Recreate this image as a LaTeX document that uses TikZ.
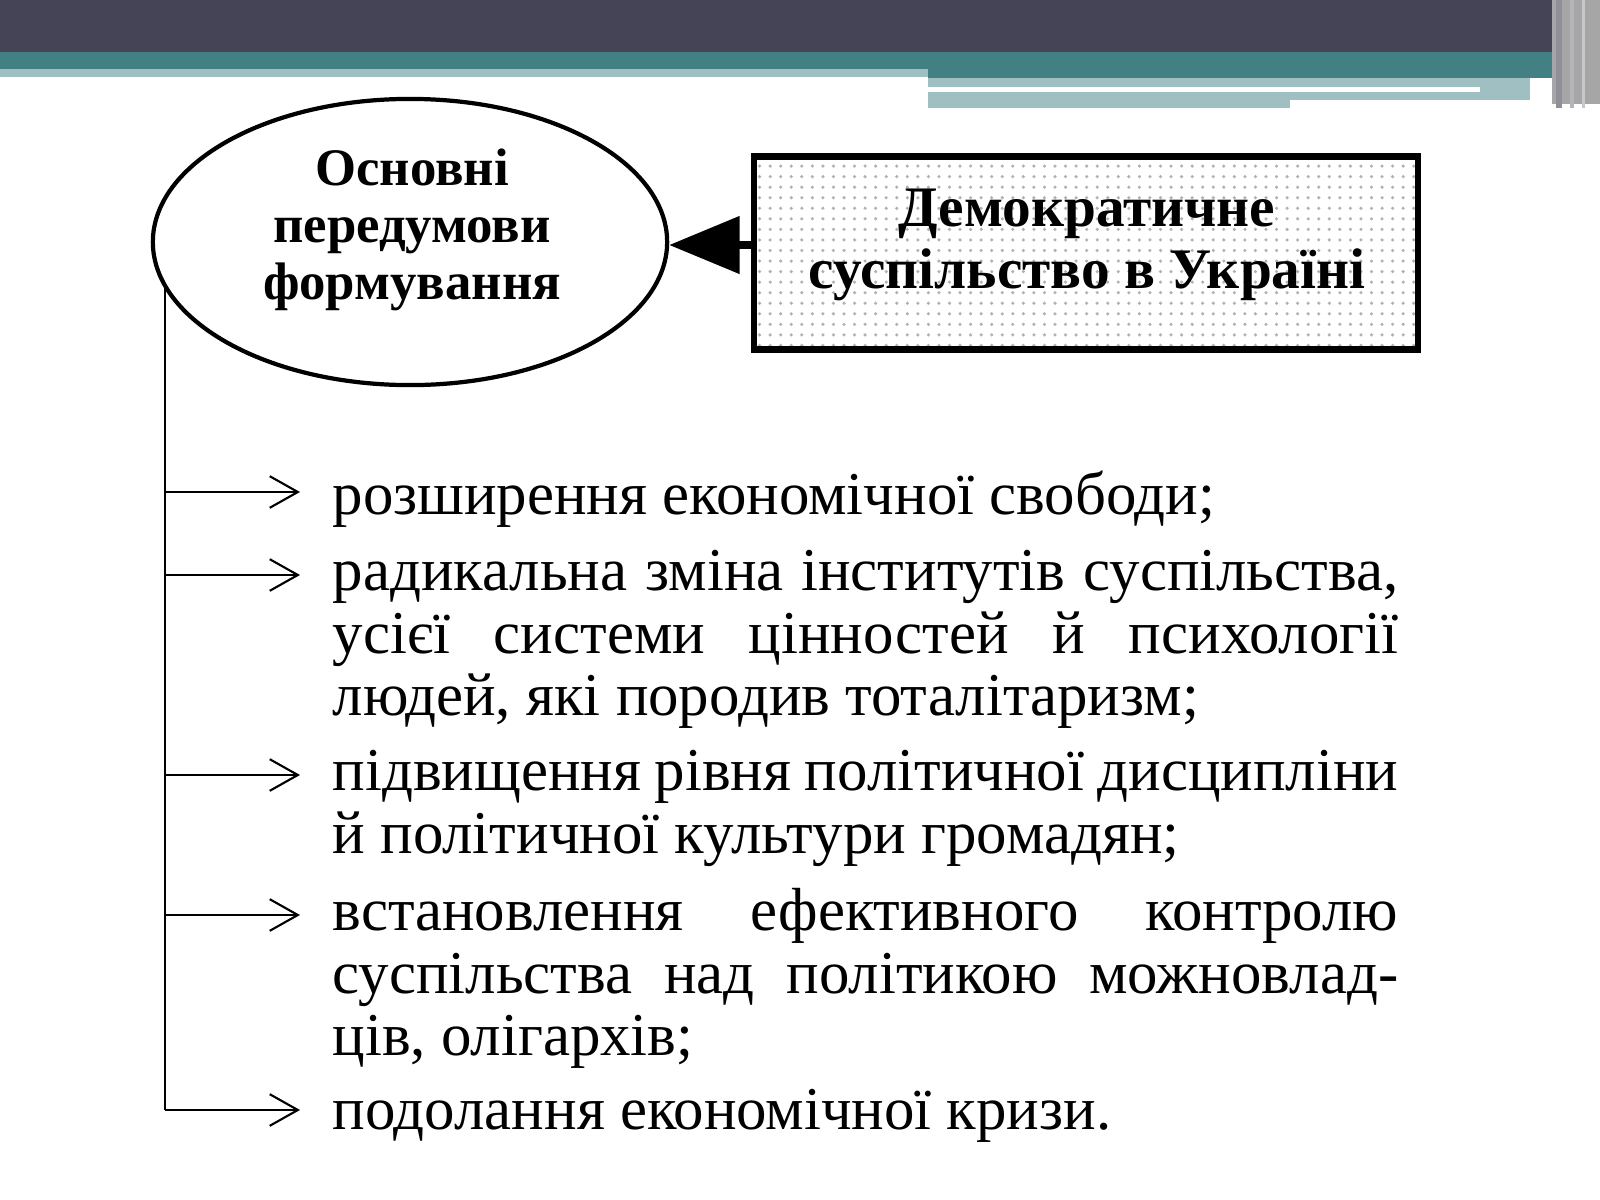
\documentclass[tikz,border=0pt]{standalone}
\usepackage{fontspec}
\setmainfont{Liberation Serif}
\usetikzlibrary{arrows.meta,patterns,shapes.geometric}
\definecolor{hdark}{HTML}{444456}
\definecolor{hteal}{HTML}{438084}
\definecolor{hlight}{HTML}{A0BFC2}
\tikzset{
 item/.style={anchor=north west,text width=303pt,align=justify,inner sep=0pt,font=\fontsize{17.3}{17.7}\selectfont},
 branch/.style={-{Straight Barb[length=8pt,width=9pt]},line width=0.6pt},
}
\begin{document}
\begin{tikzpicture}[x=0.01cm,y=-0.01cm]
\useasboundingbox (0,0) rectangle (1600,1200);
% header
\fill[hdark] (0,0) rectangle (1600,52);
\fill[hteal] (0,52) rectangle (1560,69);
\fill[hlight] (0,69) rectangle (928,77);
\fill[hteal] (928,69) rectangle (1560,78);
\fill[hlight] (928,78) rectangle (1530,104);
\fill[white] (928,87) rectangle (1480,92);
\fill[white] (1290,100) rectangle (1530,104);
\fill[hlight] (928,104) rectangle (1290,108);
\fill[gray!70] (1552,0) rectangle (1600,104);
\fill[hdark!60] (1556,0) rectangle (1562,108);
\fill[hdark!40] (1570,0) rectangle (1574,108);
\fill[hdark!30] (1582,0) rectangle (1585,108);
% ellipse
\node[draw,ellipse,line width=1.2pt,minimum width=5.14cm,minimum height=2.86cm,inner sep=0pt] (ell) at (410,242) {};
\node[align=center,font=\bfseries\fontsize{15}{16.2}\selectfont,inner sep=0pt] (et) at (412,230) {Основні\\передумови\\формування};
% box
\node[draw,line width=1.8pt,minimum width=6.63cm,minimum height=1.93cm,inner sep=0pt,pattern=dots,pattern color=gray!60] (boxn) at (1086,253) {};
\node[align=center,font=\bfseries\fontsize{16.3}{17.7}\selectfont,inner sep=0pt] (bt) at (1087,245) {Демократичне\\суспільство в Україні};
\draw[line width=2pt,-{Triangle[length=20pt,width=16pt]}] (boxn.west |- 0,245) -- (ell.east |- 0,245);
% trunk
\coordinate (T0) at (165,285);
\coordinate (T1) at (165,1110);
\draw[line width=0.8pt] (T0) -- (T1);
\foreach \n/\y in {a/492,b/575,c/775,d/915,e/1110}{
 \coordinate (s\n) at (165,\y);
 \coordinate (t\n) at (300,\y);
 \draw[branch] (s\n) -- (t\n);
}
\node[item] (i1) at (332,470) {розширення економічної свободи;};
\node[item] (i2) at (332,550) {радикальна зміна інститутів суспільства,\linebreak усієї системи цінностей й психології\linebreak людей, які породив тоталітаризм;};
\node[item] (i3) at (332,750) {підвищення рівня політичної дисципліни\linebreak й політичної культури громадян;};
\node[item] (i4) at (332,888) {встановлення ефективного контролю\linebreak суспільства над політикою можновлад-\linebreak ців, олігархів;};
\node[item] (i5) at (332,1088) {подолання економічної кризи.};
\end{tikzpicture}
\end{document}
